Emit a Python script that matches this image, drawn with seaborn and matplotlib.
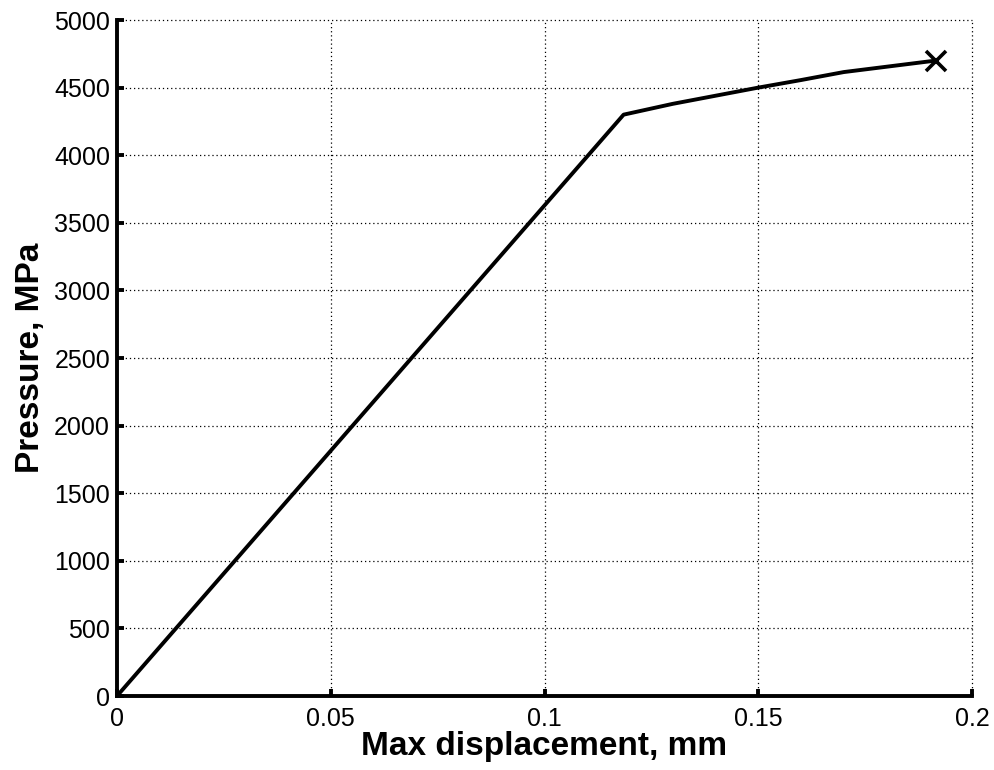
import matplotlib
matplotlib.use("Agg")
import matplotlib.pyplot as plt
import seaborn as sns
import pandas as pd

# Load–displacement curve
displacement_mm = [0.0, 0.1185, 0.13, 0.15, 0.16, 0.17, 0.1915]
pressure_mpa = [0.0, 4300, 4380, 4500, 4556, 4615, 4700]

x_ticks = [0, 0.05, 0.1, 0.15, 0.2]
x_tick_labels = ["0", "0.05", "0.1", "0.15", "0.2"]
y_ticks = [0, 500, 1000, 1500, 2000, 2500, 3000, 3500, 4000, 4500, 5000]
y_tick_labels = [str(v) for v in y_ticks]

sns.set_style("white")
plt.rcParams["font.family"] = ["Liberation Sans", "DejaVu Sans"]

df = pd.DataFrame({"disp": displacement_mm, "p": pressure_mpa})

fig = plt.figure(figsize=(9.95, 7.7), dpi=100)
ax = fig.add_axes([0.1176, 0.0961, 0.8593, 0.8779])

sns.lineplot(data=df, x="disp", y="p", sort=False, color="black",
             linewidth=2.8, ax=ax)
ax.plot(displacement_mm[-1], pressure_mpa[-1], marker="x", color="black",
        markersize=15, markeredgewidth=2.6, linestyle="none")

ax.set_xlim(0, 0.2)
ax.set_ylim(0, 5000)
ax.set_xticks(x_ticks)
ax.set_xticklabels(x_tick_labels)
ax.set_yticks(y_ticks)
ax.set_yticklabels(y_tick_labels)

ax.grid(True, linestyle=(0, (1, 2.3)), color="black", linewidth=0.9)
for gl in ax.get_xgridlines() + ax.get_ygridlines():
    gl.set_clip_on(False)

for side in ("top", "right"):
    ax.spines[side].set_visible(False)
for side in ("left", "bottom"):
    ax.spines[side].set_linewidth(2.8)
    ax.spines[side].set_color("black")

ax.tick_params(axis="both", which="major", direction="in", length=5,
               width=2.8, labelsize=18, colors="black",
               bottom=True, left=True, top=False, right=False)
ax.tick_params(axis="x", pad=8)
ax.tick_params(axis="y", pad=5)

ax.set_xlabel("Max displacement, mm", fontsize=24, fontweight="bold",
              color="black", labelpad=0)
ax.set_ylabel("Pressure, MPa", fontsize=24, fontweight="bold",
              color="black", labelpad=6)

fig.savefig("out.png", dpi=100, facecolor="white")
